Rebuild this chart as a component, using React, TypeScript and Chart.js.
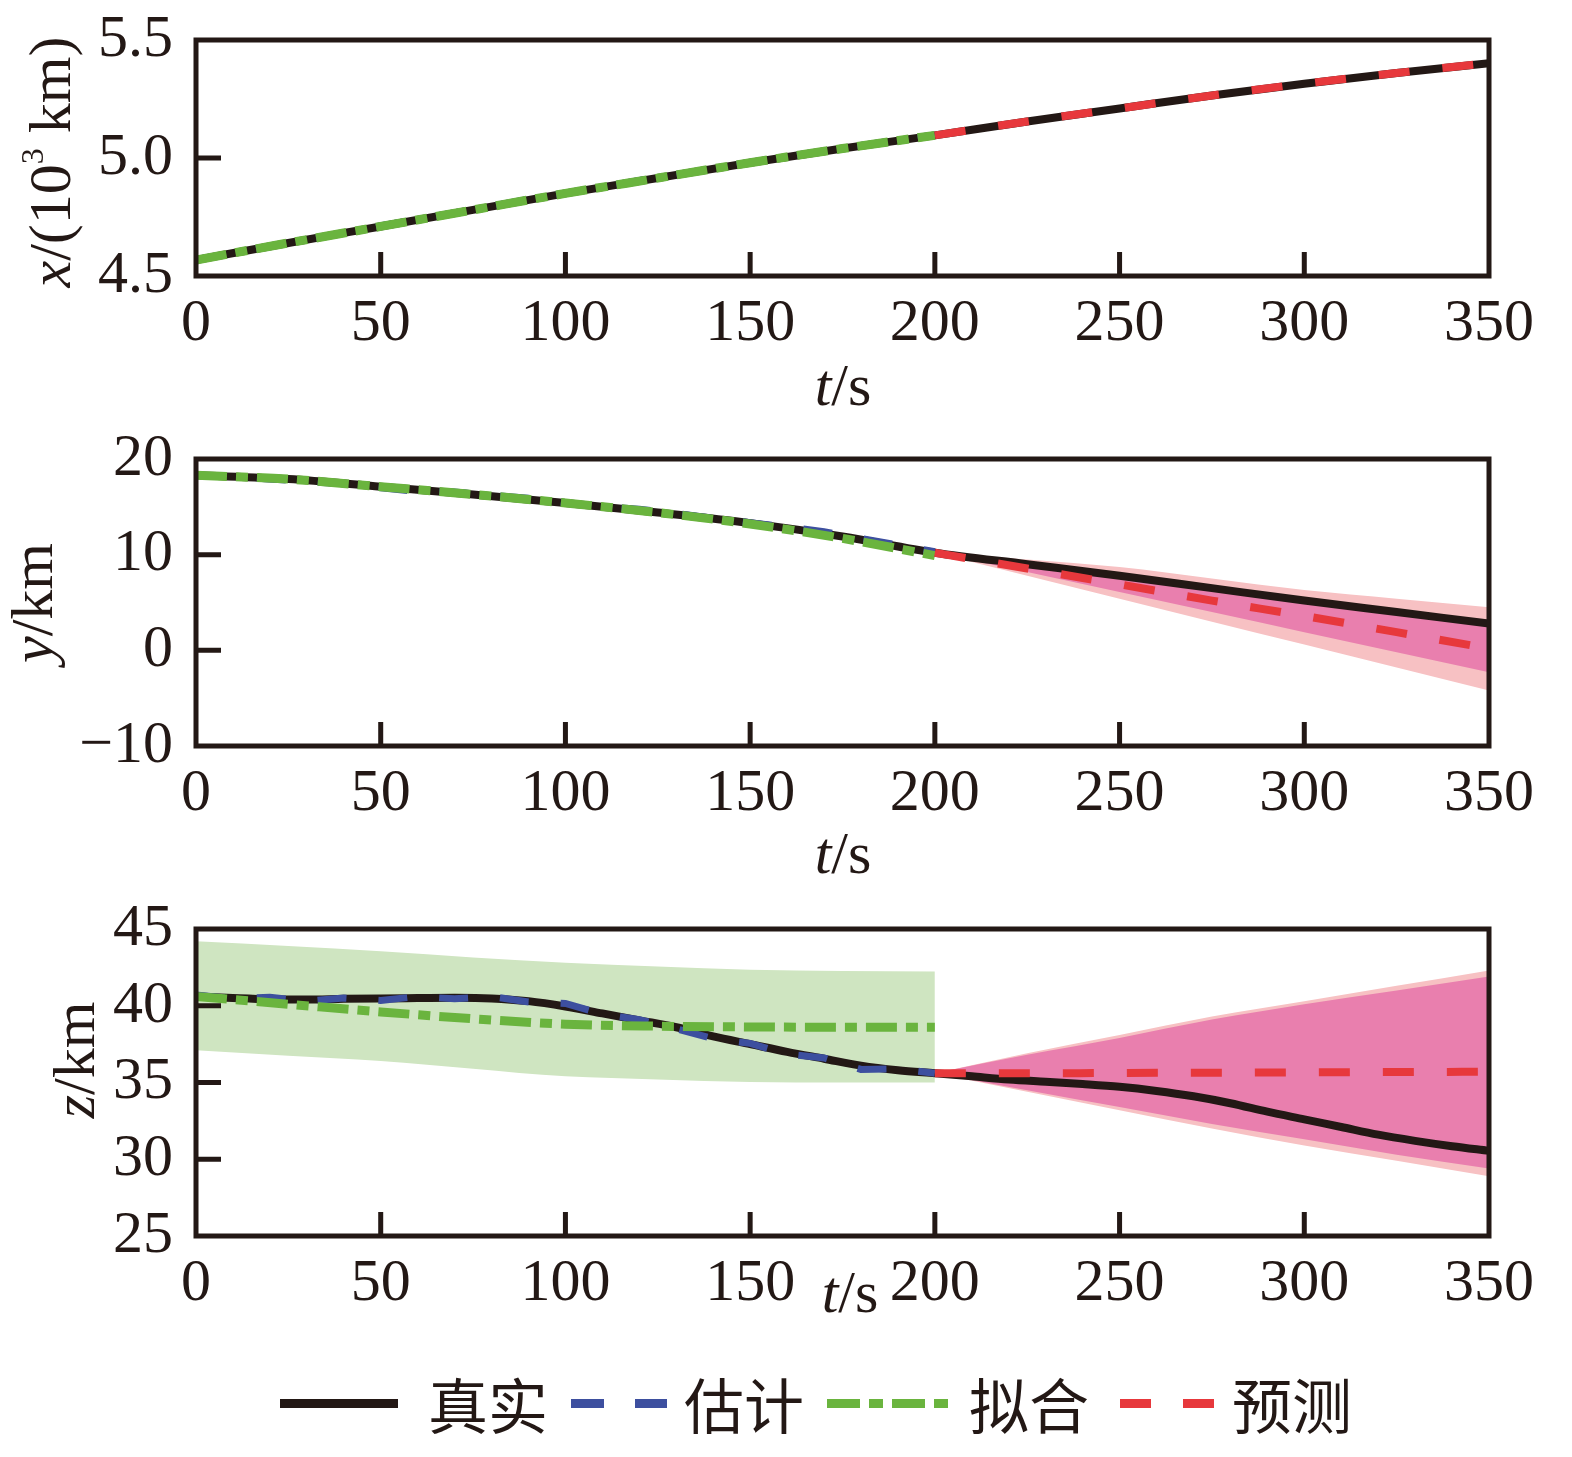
import { useEffect, useRef } from "react"
import { Chart, registerables, type ChartConfiguration, type Plugin } from "chart.js"

Chart.register(...registerables)

// time samples (s)
const T_FULL = [0, 25, 50, 75, 100, 125, 150, 175, 200, 225, 250, 275, 300, 325, 350]
const T_FIT = [0, 25, 50, 75, 100, 125, 150, 175, 200]
const T_PRED = [200, 225, 250, 275, 300, 325, 350]
const T_EST = [0, 10, 20, 30, 40, 50, 60, 70, 80, 90, 100, 110, 120, 130, 140, 150, 160, 170, 180, 190, 200]
const T_FINE = [
  0, 10, 20, 30, 40, 50, 60, 70, 80, 90, 100, 110, 120, 130, 140, 150, 160, 170, 180, 190, 200, 210, 220, 230, 240,
  250, 260, 270, 280, 290, 300, 310, 320, 330, 340, 350,
]

// x / (10^3 km)
const X_TRUE = [4.568, 4.64, 4.71, 4.78, 4.85, 4.915, 4.98, 5.04, 5.096, 5.155, 5.21, 5.265, 5.315, 5.36, 5.402]
const X_EST = [
  4.57, 4.597, 4.627, 4.655, 4.682, 4.713, 4.74, 4.768, 4.797, 4.825, 4.852, 4.878, 4.905, 4.93, 4.956, 4.982, 5.006,
  5.03, 5.053, 5.076, 5.098,
]
const X_FIT = [4.568, 4.64, 4.71, 4.78, 4.85, 4.915, 4.98, 5.04, 5.096]
const X_PRED = [5.096, 5.155, 5.21, 5.265, 5.315, 5.36, 5.402]

// y / km
const Y_TRUE = [18.3, 17.9, 17.1, 16.3, 15.4, 14.4, 13.3, 11.9, 10.2, 9.0, 7.8, 6.5, 5.2, 4.0, 2.8]
const Y_EST = [
  18.3, 18.15, 17.9, 17.65, 17.4, 17.0, 16.6, 16.55, 16.2, 15.9, 15.45, 15.0, 14.75, 14.3, 13.8, 13.35, 12.9, 12.4,
  11.7, 11.0, 10.3,
]
const Y_FIT = [18.3, 17.9, 17.1, 16.3, 15.4, 14.4, 13.2, 11.7, 9.9]
const Y_PRED = [10.2, 8.55, 6.9, 5.2, 3.6, 1.9, 0.2]
const Y_PRED_OUTER_HI = [10.2, 9.5, 8.7, 7.5, 6.3, 5.4, 4.5]
const Y_PRED_OUTER_LO = [10.2, 7.8, 5.4, 3.0, 0.6, -1.8, -4.2]
const Y_PRED_INNER_HI = [10.2, 8.9, 7.6, 6.3, 5.0, 3.9, 2.8]
const Y_PRED_INNER_LO = [10.2, 8.2, 6.1, 4.0, 1.9, -0.2, -2.3]

// z / km
const Z_TRUE = [
  40.6, 40.5, 40.42, 40.4, 40.45, 40.48, 40.5, 40.52, 40.48, 40.3, 39.95, 39.5, 39.05, 38.6, 38.0, 37.5, 37.0, 36.55,
  36.1, 35.8, 35.6, 35.4, 35.2, 35.05, 34.9, 34.72, 34.45, 34.1, 33.65, 33.1, 32.6, 32.1, 31.6, 31.2, 30.85, 30.55,
]
const Z_EST = [
  40.7, 40.45, 40.55, 40.3, 40.5, 40.35, 40.6, 40.45, 40.6, 40.25, 40.15, 39.45, 39.1, 38.5, 37.85, 37.55, 36.85,
  36.6, 35.85, 35.9, 35.6,
]
const Z_FIT = [40.6, 40.1, 39.6, 39.15, 38.8, 38.67, 38.62, 38.6, 38.6]
const Z_FIT_HI = [44.2, 43.9, 43.55, 43.15, 42.8, 42.55, 42.35, 42.27, 42.23]
const Z_FIT_LO = [37.1, 36.75, 36.4, 35.9, 35.4, 35.2, 35.04, 35.0, 35.0]
const Z_PRED = [35.6, 35.6, 35.62, 35.64, 35.66, 35.68, 35.7]
const Z_PRED_OUTER_HI = [35.6, 36.9, 38.1, 39.3, 40.3, 41.3, 42.3]
const Z_PRED_OUTER_LO = [35.6, 34.4, 33.2, 32.0, 30.9, 29.9, 28.9]
const Z_PRED_INNER_HI = [35.6, 36.8, 37.9, 39.1, 40.1, 41.0, 41.9]
const Z_PRED_INNER_LO = [35.6, 34.5, 33.4, 32.3, 31.3, 30.3, 29.4]

const LEGEND_LABELS = ["真实", "估计", "拟合", "预测"]

const INK = "#231815"
const EST_COLOR = "#3d4f9f"
const FIT_COLOR = "#6ab43e"
const PRED_COLOR = "#e7383c"
const FIT_BAND = "#cfe5c1"
const PRED_BAND_OUTER = "#f7c1c3"
const PRED_BAND_INNER = "#e97fae"

const SERIF = '"Liberation Serif", "Times New Roman", serif'
const W = 1572
const H = 1457
const OFF = 40 // canvases start above the page so the top tick label has room
const PLOT_LEFT = 196
const PLOT_RIGHT = 1489

const EST_DASH = [29, 32]
const FIT_DASH = [31, 9, 12, 9]
const PRED_DASH = [31, 33]

type Piece = { text: string; italic?: boolean; sup?: boolean }

interface PanelConfig {
  top: number
  bottom: number
  yMin: number
  yMax: number
  yStep: number
  decimals: number
  datasets: () => any[]
  yTitle: Piece[]
  yTitleX: number
  yTitleY: number
  xTitleX: number
  xTitleY: number
}

const pts = (t: number[], v: number[]) => t.map((x, i) => ({ x, y: v[i] }))

function line(data: { x: number; y: number }[], color: string, width: number, dash: number[], order: number, smooth = true) {
  return {
    data,
    borderColor: color,
    borderWidth: width,
    borderDash: dash,
    pointRadius: 0,
    fill: false,
    order,
    tension: 0,
    cubicInterpolationMode: smooth ? "monotone" : "default",
    clip: 0,
  }
}

function bandTop(data: { x: number; y: number }[], color: string, order: number) {
  return {
    data,
    borderColor: "rgba(0,0,0,0)",
    borderWidth: 1,
    pointRadius: 0,
    backgroundColor: color,
    fill: "+1",
    order,
    cubicInterpolationMode: "monotone",
    clip: 0,
  }
}

function bandBottom(data: { x: number; y: number }[], order: number) {
  return {
    data,
    borderColor: "rgba(0,0,0,0)",
    borderWidth: 1,
    pointRadius: 0,
    fill: false,
    order,
    cubicInterpolationMode: "monotone",
    clip: 0,
  }
}

function drawPieces(ctx: CanvasRenderingContext2D, pieces: Piece[], centerX: number, baseline: number) {
  const fontOf = (p: Piece) => `${p.italic ? "italic " : ""}${p.sup ? 32 : 60}px ${SERIF}`
  let total = 0
  for (const p of pieces) {
    ctx.font = fontOf(p)
    total += ctx.measureText(p.text).width
  }
  let x = centerX - total / 2
  for (const p of pieces) {
    ctx.font = fontOf(p)
    ctx.fillText(p.text, x, p.sup ? baseline - 27 : baseline)
    x += ctx.measureText(p.text).width
  }
}

// frame, inward ticks and axis titles
const decorPlugin: Plugin = {
  id: "decor",
  afterDatasetsDraw(chart, _args, opts: any) {
    const { ctx, chartArea: a } = chart
    const xs = chart.scales.x
    const ys = chart.scales.y
    ctx.save()
    ctx.strokeStyle = INK
    ctx.lineWidth = 5
    ctx.beginPath()
    xs.ticks.forEach((t) => {
      if (t.value <= xs.min || t.value >= xs.max) return
      const px = xs.getPixelForValue(t.value)
      ctx.moveTo(px, a.bottom)
      ctx.lineTo(px, a.bottom - 24)
    })
    ys.ticks.forEach((t) => {
      if (t.value <= ys.min || t.value >= ys.max) return
      const py = ys.getPixelForValue(t.value)
      ctx.moveTo(a.left, py)
      ctx.lineTo(a.left + 25, py)
    })
    ctx.stroke()
    ctx.strokeRect(a.left, a.top, a.right - a.left, a.bottom - a.top)

    // titles are placed in page coordinates
    ctx.translate(0, OFF)
    ctx.fillStyle = INK
    ctx.textAlign = "left"
    ctx.textBaseline = "alphabetic"
    drawPieces(ctx, [{ text: "t", italic: true }, { text: "/s" }], opts.xTitleX, opts.xTitleY)

    ctx.translate(opts.yTitleX, opts.yTitleY)
    ctx.rotate(-Math.PI / 2)
    drawPieces(ctx, opts.yTitle, 0, 0)
    ctx.restore()
  },
}

function buildConfig(cfg: PanelConfig): ChartConfiguration {
  return {
    type: "line",
    data: { datasets: cfg.datasets() },
    options: {
      animation: false,
      responsive: true,
      maintainAspectRatio: false,
      events: [],
      layout: { padding: { top: cfg.top + OFF, right: W - PLOT_RIGHT, left: 0, bottom: 0 } },
      plugins: {
        legend: { display: false },
        tooltip: { enabled: false },
        decor: {
          yTitle: cfg.yTitle,
          yTitleX: cfg.yTitleX,
          yTitleY: cfg.yTitleY,
          xTitleX: cfg.xTitleX,
          xTitleY: cfg.xTitleY,
        },
      } as any,
      scales: {
        x: {
          type: "linear",
          min: 0,
          max: 350,
          grid: { display: false, drawTicks: false },
          border: { display: false },
          ticks: {
            stepSize: 50,
            autoSkip: false,
            maxRotation: 0,
            padding: 12,
            color: INK,
            font: { family: SERIF, size: 60 },
          },
          afterFit: (s: any) => {
            s.height = H - cfg.bottom
          },
        },
        y: {
          type: "linear",
          min: cfg.yMin,
          max: cfg.yMax,
          grid: { display: false, drawTicks: false },
          border: { display: false },
          ticks: {
            stepSize: cfg.yStep,
            autoSkip: false,
            padding: 23,
            color: INK,
            font: { family: SERIF, size: 60 },
            callback: (v: any) => Number(v).toFixed(cfg.decimals).replace("-", "\u2212"),
          },
          afterFit: (s: any) => {
            s.width = PLOT_LEFT
          },
        },
      },
    },
    plugins: [decorPlugin],
  } as ChartConfiguration
}

const PANEL_X: PanelConfig = {
  top: 40,
  bottom: 276,
  yMin: 4.5,
  yMax: 5.5,
  yStep: 0.5,
  decimals: 1,
  datasets: () => [
    line(pts(T_FULL, X_TRUE), INK, 8, [], 4),
    line(pts(T_EST, X_EST), EST_COLOR, 7, EST_DASH, 3, false),
    line(pts(T_FIT, X_FIT), FIT_COLOR, 9, FIT_DASH, 2),
    line(pts(T_PRED, X_PRED), PRED_COLOR, 8, PRED_DASH, 1),
  ],
  yTitle: [{ text: "x", italic: true }, { text: "/(10" }, { text: "3", sup: true }, { text: " km)" }],
  yTitleX: 70,
  yTitleY: 162,
  xTitleX: 843,
  xTitleY: 405,
}

const PANEL_Y: PanelConfig = {
  top: 459,
  bottom: 746,
  yMin: -10,
  yMax: 20,
  yStep: 10,
  decimals: 0,
  datasets: () => [
    bandTop(pts(T_PRED, Y_PRED_OUTER_HI), PRED_BAND_OUTER, 6),
    bandBottom(pts(T_PRED, Y_PRED_OUTER_LO), 6),
    bandTop(pts(T_PRED, Y_PRED_INNER_HI), PRED_BAND_INNER, 5),
    bandBottom(pts(T_PRED, Y_PRED_INNER_LO), 5),
    line(pts(T_FULL, Y_TRUE), INK, 8, [], 4),
    line(pts(T_EST, Y_EST), EST_COLOR, 7, EST_DASH, 3, false),
    line(pts(T_FIT, Y_FIT), FIT_COLOR, 9, FIT_DASH, 2),
    line(pts(T_PRED, Y_PRED), PRED_COLOR, 8, PRED_DASH, 1),
  ],
  yTitle: [{ text: "y", italic: true }, { text: "/km" }],
  yTitleX: 52,
  yTitleY: 603,
  xTitleX: 843,
  xTitleY: 873,
}

const PANEL_Z: PanelConfig = {
  top: 929,
  bottom: 1236,
  yMin: 25,
  yMax: 45,
  yStep: 5,
  decimals: 0,
  datasets: () => [
    bandTop(pts(T_FIT, Z_FIT_HI), FIT_BAND, 7),
    bandBottom(pts(T_FIT, Z_FIT_LO), 7),
    bandTop(pts(T_PRED, Z_PRED_OUTER_HI), PRED_BAND_OUTER, 6),
    bandBottom(pts(T_PRED, Z_PRED_OUTER_LO), 6),
    bandTop(pts(T_PRED, Z_PRED_INNER_HI), PRED_BAND_INNER, 5),
    bandBottom(pts(T_PRED, Z_PRED_INNER_LO), 5),
    line(pts(T_FINE, Z_TRUE), INK, 8, [], 4),
    line(pts(T_EST, Z_EST), EST_COLOR, 7, EST_DASH, 3, false),
    line(pts(T_FIT, Z_FIT), FIT_COLOR, 9, FIT_DASH, 2),
    line(pts(T_PRED, Z_PRED), PRED_COLOR, 8, PRED_DASH, 1),
  ],
  yTitle: [{ text: "z", italic: true }, { text: "/km" }],
  yTitleX: 94,
  yTitleY: 1060,
  xTitleX: 850,
  xTitleY: 1312,
}

function Panel({ cfg }: { cfg: PanelConfig }) {
  const canvasRef = useRef<HTMLCanvasElement>(null)

  useEffect(() => {
    if (!canvasRef.current) return
    const chart = new Chart(canvasRef.current, buildConfig(cfg))
    return () => chart.destroy()
  }, [cfg])

  return (
    <div style={{ position: "absolute", left: 0, top: -OFF, width: W, height: H + OFF }}>
      <canvas ref={canvasRef} />
    </div>
  )
}

function dashBackground(color: string, dash: number[]) {
  let pos = 0
  const stops: string[] = []
  dash.forEach((len, i) => {
    const c = i % 2 === 0 ? color : "transparent"
    stops.push(`${c} ${pos}px ${pos + len}px`)
    pos += len
  })
  return `repeating-linear-gradient(to right, ${stops.join(", ")})`
}

function Legend() {
  const swatches = [
    { left: 280, width: 118, bg: INK },
    { left: 571, width: 96, bg: dashBackground(EST_COLOR, [33, 31]) },
    { left: 827, width: 121, bg: dashBackground(FIT_COLOR, [33, 9, 14, 9]) },
    { left: 1120, width: 94, bg: dashBackground(PRED_COLOR, [31, 32]) },
  ]
  const textLeft = [428, 684, 969, 1232]
  const cy = 1403
  return (
    <>
      {swatches.map((s, i) => (
        <div
          key={`s${i}`}
          style={{ position: "absolute", left: s.left, top: cy - 4.5, width: s.width, height: 9, background: s.bg }}
        />
      ))}
      {LEGEND_LABELS.map((label, i) => (
        <div
          key={label}
          style={{
            position: "absolute",
            left: textLeft[i],
            top: cy - 30,
            height: 60,
            lineHeight: "60px",
            fontSize: 60,
            fontFamily: '"Noto Sans CJK SC", sans-serif',
            color: INK,
            whiteSpace: "nowrap",
          }}
        >
          {label}
        </div>
      ))}
    </>
  )
}

export default function App() {
  return (
    <div style={{ position: "absolute", left: 0, top: 0, width: W, height: H, background: "#fff", overflow: "hidden" }}>
      <Panel cfg={PANEL_X} />
      <Panel cfg={PANEL_Y} />
      <Panel cfg={PANEL_Z} />
      <Legend />
    </div>
  )
}
